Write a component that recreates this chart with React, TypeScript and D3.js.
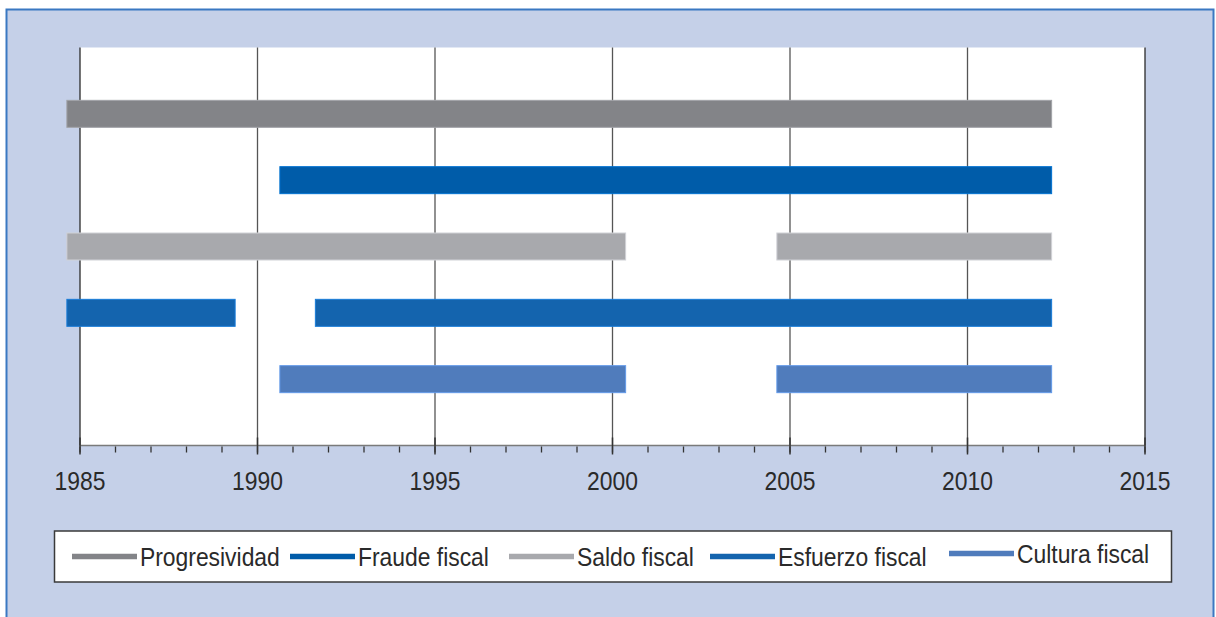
import React from "react";
import * as d3 from "d3";

const seriesNames = ["Progresividad", "Fraude fiscal", "Saldo fiscal", "Esfuerzo fiscal", "Cultura fiscal"];
const seriesColors = ["#838488", "#005ca9", "#a8a9ad", "#1464ae", "#507cbc"];
// year spans (first year, last year) for each series
const progresividadSpans: [number, number][] = [[1985, 2012]];
const fraudeSpans: [number, number][] = [[1991, 2012]];
const saldoSpans: [number, number][] = [[1985, 2000], [2005, 2012]];
const esfuerzoSpans: [number, number][] = [[1985, 1989], [1992, 2012]];
const culturaSpans: [number, number][] = [[1991, 2000], [2005, 2012]];
const allSpans = [progresividadSpans, fraudeSpans, saldoSpans, esfuerzoSpans, culturaSpans];
const majorTicks = [1985, 1990, 1995, 2000, 2005, 2010, 2015];
const minorTicks = d3.range(1985, 2016);

const W = 1216;
const H = 617;
const FONT = "'Liberation Sans', Arial, sans-serif";
const SX = 0.88;

function NarrowText(props: { x: number; y: number; anchor?: string; size: number; children: React.ReactNode }) {
  return (
    <text
      transform={`translate(${props.x},${props.y}) scale(${SX},1)`}
      textAnchor={props.anchor || "start"}
      fontSize={props.size}
      fill="#2a2a2a"
    >
      {props.children}
    </text>
  );
}

export default function App() {
  const x = d3.scaleLinear().domain([1985, 2015]).range([80, 1145]);
  const y = d3.scaleLinear().domain([0, 6]).range([445.5, 47.5]);
  const pad = 0.37;
  const barH = 27;

  const legendItems = [
    { sx: 72, tx: 140, y: 556.5 },
    { sx: 290, tx: 358, y: 556.5 },
    { sx: 509, tx: 577, y: 556.5 },
    { sx: 710, tx: 778, y: 556.5 },
    { sx: 949, tx: 1017, y: 553.5 },
  ];

  return (
    <svg width={W} height={H} style={{ position: "absolute", left: 0, top: 0 }} fontFamily={FONT}>
      <rect x={6.5} y={9.5} width={1207} height={620} fill="#c5d0e8" stroke="#3a78c2" strokeWidth={2} />
      <rect x={x(1985)} y={y(6)} width={x(2015) - x(1985)} height={y(0) - y(6)} fill="#ffffff" />
      {majorTicks.map((t) => (
        <line key={"g" + t} x1={x(t)} x2={x(t)} y1={y(6)} y2={y(0)} stroke={t === 1985 || t === 2015 ? "#2b2b2b" : "#555"} strokeWidth={1.3} />
      ))}
      <line x1={x(1985)} x2={x(2015)} y1={y(0)} y2={y(0)} stroke="#7a7a7a" strokeWidth={1.3} />
      {minorTicks.map((t) => (
        <line key={"m" + t} x1={x(t)} x2={x(t)} y1={y(0) + 1} y2={y(0) + 7} stroke="#333" strokeWidth={1.3} />
      ))}
      {majorTicks.map((t) => (
        <line key={"M" + t} x1={x(t)} x2={x(t)} y1={y(0) - 8} y2={y(0) + 9} stroke="#333" strokeWidth={1.5} />
      ))}
      {majorTicks.map((t) => (
        <NarrowText key={"l" + t} x={x(t)} y={490} anchor="middle" size={26}>
          {t}
        </NarrowText>
      ))}
      {allSpans.map((spans, i) =>
        spans.map(([a, b], j) => {
          const cy = y(5 - i);
          const c = seriesColors[i];
          return (
            <rect
              key={i + "-" + j}
              x={x(a - pad)}
              y={cy - barH / 2}
              width={x(b + pad) - x(a - pad)}
              height={barH}
              fill={c}
              stroke={d3.color(c)!.brighter(0.6).formatHex()}
              strokeWidth={1}
            />
          );
        })
      )}
      <rect x={54.5} y={531} width={1117} height={51} fill="#ffffff" stroke="#3a3a3a" strokeWidth={1.5} />
      {legendItems.map((it, i) => (
        <g key={"lg" + i}>
          <line x1={it.sx} x2={it.sx + 65} y1={it.y} y2={it.y} stroke={seriesColors[i]} strokeWidth={5.5} />
          <NarrowText x={it.tx} y={it.y + 9} size={26}>
            {seriesNames[i]}
          </NarrowText>
        </g>
      ))}
    </svg>
  );
}
